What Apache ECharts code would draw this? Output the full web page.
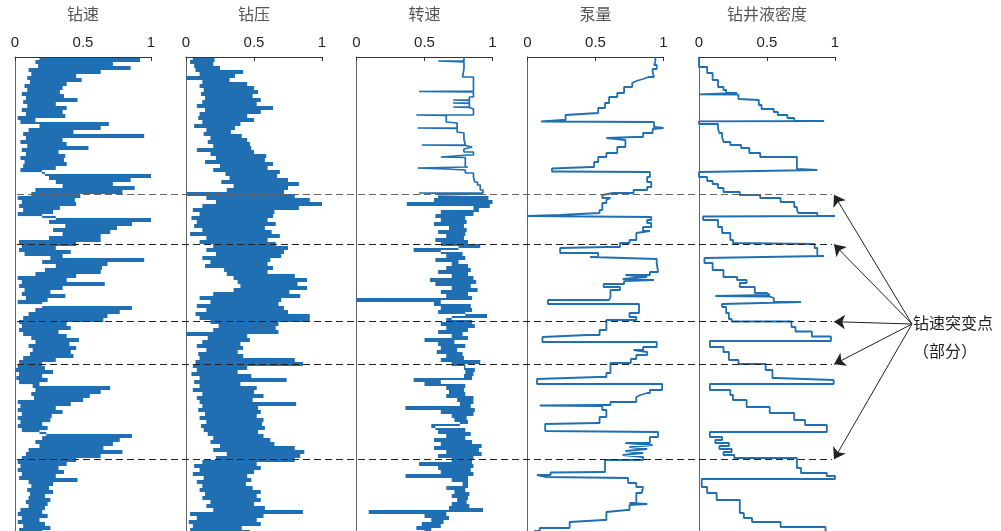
<!DOCTYPE html>
<html>
<head>
<meta charset="utf-8">
<script src="https://cdn.jsdelivr.net/npm/echarts@6/dist/echarts.min.js"></script>
<style>
  html, body { margin: 0; padding: 0; background: #fff; }
  #chart { width: 1001px; height: 531px; }
</style>
</head>
<body>
<div id="chart"></div>
<script>
// Normalised well-log curves, depth increasing downwards (depth units = rows).
const panelTitles = ['钻速', '钻压', '转速', '泵量', '钻井液密度'];
const xTickLabels = ['0', '0.5', '1'];
const depthStep = 2;

// 钻速 (rate of penetration), one sample every depthStep
const ropValues = [
  0.18,0.92,0.15,0.72,0.17,0.85,0.10,0.63,0.12,0.45,0.09,0.49,0.11,0.38,0.07,0.35,0.09,0.33,0.05,0.36,
  0.08,0.46,0.06,0.30,0.09,0.38,0.05,0.35,0.08,0.37,0.02,0.15,0.04,0.69,0.18,0.63,0.10,0.43,0.06,0.95,
  0.08,0.35,0.04,0.38,0.09,0.54,0.05,0.32,0.08,0.37,0.04,0.36,0.07,0.38,0.06,0.30,0.04,0.20,0.22,1.00,
  0.25,0.85,0.30,0.72,0.35,0.88,0.15,0.79,0.12,0.48,0.02,0.44,0.05,0.45,0.03,0.33,0.06,0.28,0.02,0.20,
  0.30,1.00,0.25,0.86,0.37,0.75,0.28,0.70,0.35,0.63,0.25,0.63,0.03,0.45,0.05,0.30,0.03,0.41,0.07,0.35,
  0.26,0.95,0.20,0.68,0.30,0.64,0.22,0.63,0.15,0.45,0.02,0.38,0.05,0.66,0.03,0.35,0.07,0.26,0.05,0.37,
  0.08,0.24,0.02,0.20,0.20,0.86,0.15,0.77,0.10,0.68,0.06,0.65,0.03,0.38,0.05,0.41,0.03,0.32,0.06,0.38,
  0.12,0.47,0.15,0.40,0.10,0.45,0.13,0.41,0.11,0.43,0.06,0.30,0.03,0.20,0.02,0.22,0.00,0.28,0.03,0.20,
  0.01,0.24,0.03,0.18,0.13,0.70,0.15,0.63,0.12,0.55,0.14,0.50,0.02,0.41,0.04,0.30,0.02,0.35,0.05,0.27,
  0.02,0.26,0.04,0.20,0.02,0.24,0.05,0.18,0.23,0.86,0.20,0.77,0.15,0.72,0.18,0.65,0.10,0.79,0.08,0.63,
  0.05,0.45,0.02,0.38,0.04,0.32,0.02,0.36,0.05,0.30,0.03,0.46,0.10,0.28,0.12,0.25,0.09,0.28,0.11,0.22,
  0.10,0.26,0.08,0.24,0.10,0.22,0.04,0.20,0.02,0.24,0.05,0.18,0.02,0.22,0.06,0.26,0.03,0.20
];

// 钻压 (weight on bit), one sample every depthStep
const wobValues = [
  0.05,0.21,0.03,0.20,0.06,0.25,0.07,0.42,0.10,0.36,0.00,0.32,0.12,0.45,0.10,0.50,0.13,0.53,0.11,0.49,
  0.14,0.55,0.12,0.52,0.08,0.64,0.14,0.55,0.10,0.45,0.09,0.50,0.12,0.40,0.06,0.36,0.15,0.33,0.13,0.41,
  0.18,0.45,0.16,0.47,0.20,0.48,0.08,0.50,0.18,0.59,0.22,0.58,0.14,0.64,0.25,0.60,0.20,0.69,0.29,0.67,
  0.32,0.75,0.26,0.83,0.35,0.75,0.30,0.72,0.00,0.80,0.15,0.91,0.22,1.00,0.12,0.83,0.05,0.65,0.10,0.64,
  0.04,0.60,0.08,0.66,0.06,0.58,0.12,0.63,0.03,0.69,0.15,0.60,0.10,0.66,0.20,0.75,0.15,0.72,0.22,0.70,
  0.12,0.62,0.18,0.60,0.14,0.64,0.28,0.60,0.30,0.80,0.35,0.89,0.38,0.82,0.40,0.89,0.35,0.76,0.20,0.84,
  0.10,0.70,0.18,0.68,0.08,0.72,0.15,0.75,0.07,0.91,0.10,0.91,0.18,0.68,0.24,0.66,0.20,0.68,0.00,0.45,
  0.16,0.47,0.12,0.40,0.08,0.42,0.15,0.38,0.09,0.42,0.10,0.80,0.07,0.86,0.05,0.45,0.08,0.38,0.04,0.48,
  0.10,0.74,0.06,0.40,0.10,0.52,0.05,0.50,0.12,0.57,0.08,0.49,0.10,0.81,0.12,0.53,0.09,0.55,0.14,0.52,
  0.10,0.57,0.15,0.56,0.11,0.58,0.13,0.53,0.16,0.57,0.20,0.62,0.18,0.65,0.25,0.80,0.20,0.87,0.30,0.84,
  0.22,0.80,0.12,0.52,0.06,0.55,0.10,0.50,0.05,0.45,0.13,0.48,0.08,0.44,0.12,0.49,0.10,0.55,0.14,0.52,
  0.12,0.55,0.18,0.50,0.15,0.58,0.20,0.86,0.03,0.57,0.08,0.52,0.02,0.55,0.05,0.41,0.03,0.47
];

// 转速 (rotary speed): upper stepped section as [value, depth] ...
const rpmTop = [
  [0.79,0],[0.79,4],[0.60,4],[0.79,5],[0.78,12],[0.79,20],[0.86,20],[0.86,34],[0.46,34.5],[0.86,35],
  [0.86,40],[0.83,40],[0.83,43],[0.71,43],[0.83,43.5],[0.83,46],[0.71,46],[0.83,46.5],[0.83,50],[0.71,50],
  [0.83,50.5],[0.86,52],[0.86,58],[0.44,58],[0.66,58.5],[0.66,65],[0.74,66],[0.74,71],[0.45,71],[0.74,71.5],
  [0.74,75],[0.79,76],[0.80,82],[0.80,88],[0.48,88],[0.80,88.5],[0.85,90],[0.79,92],[0.86,95],[0.82,98],
  [0.82,100],[0.62,100],[0.80,100.5],[0.80,105],[0.82,110],[0.45,111],[0.66,112],[0.80,113],[0.80,116],[0.86,116],
  [0.87,120],[0.89,125],[0.91,128],[0.93,133],[0.93,136],[0.46,136],[0.93,137]
];
// ... and the lower, denser section sampled every depthStep from rpmBandStart
const rpmBandStart = 138;
const rpmBand = [
  0.60,0.97,0.57,1.00,0.37,0.98,0.86,0.90,0.62,0.86,0.58,0.80,0.62,0.81,0.57,0.79,0.68,0.81,0.60,0.80,
  0.66,0.79,0.58,0.82,0.62,0.91,0.75,0.42,0.62,0.78,0.66,0.80,0.58,0.75,0.70,0.82,0.66,0.84,0.60,0.82,
  0.70,0.86,0.54,0.88,0.58,0.84,0.70,0.89,0.62,0.82,0.66,0.85,0.00,0.62,0.57,0.84,0.62,0.85,0.60,0.80,
  0.96,0.70,0.66,0.85,0.62,0.87,0.66,0.82,0.60,0.78,0.70,0.82,0.50,0.72,0.60,0.80,0.62,0.74,0.59,0.78,
  0.66,0.79,0.62,0.91,0.70,0.80,0.79,0.87,0.80,0.86,0.79,0.85,0.42,0.62,0.50,0.80,0.66,0.79,0.68,0.80,
  0.66,0.86,0.74,0.86,0.76,0.84,0.36,0.87,0.62,0.86,0.70,0.81,0.72,0.82,0.76,0.55,0.58,0.80,0.60,0.84,
  0.66,0.80,0.57,0.85,0.62,0.92,0.57,0.90,0.66,0.92,0.60,0.86,0.70,0.85,0.46,0.86,0.60,0.84,0.62,0.86,
  0.36,0.82,0.70,0.82,0.78,0.82,0.66,0.80,0.72,0.83,0.70,0.82,0.74,0.81,0.70,0.83,0.68,0.93,0.09,0.66,
  0.50,0.68,0.55,0.64,0.48,0.62,0.44,0.55,0.50
];

// 泵量 (pump flow) as [value, depth]
const flowPts = [
  [0.94,0],[0.93,5],[0.95,8],[0.92,12],[0.93,15],[0.89,20],[0.85,22],[0.80,24],[0.77,26],[0.71,30],
  [0.66,36],[0.60,40],[0.57,46],[0.52,51],[0.51,56],[0.28,58],[0.26,63],[0.10,64.5],[0.93,65],[0.93,70],
  [1.00,71],[0.92,72],[0.85,76],[0.79,80],[0.58,81],[0.72,83],[0.66,90],[0.58,96],[0.52,100],[0.49,105],
  [0.47,110],[0.18,111.5],[0.22,114.5],[0.90,115],[0.90,117],[0.88,120],[0.91,125],[0.88,130],[0.78,133],[0.63,136],
  [0.55,138],[0.61,141],[0.58,143],[0.55,146],[0.53,153],[0.52,156],[0.24,158],[0.00,159],[0.91,160],[0.88,163],
  [0.91,166],[0.85,170],[0.90,174],[0.80,176],[0.75,183],[0.68,186],[0.58,190],[0.24,191],[0.52,196],[0.46,200],
  [0.95,202],[0.96,206],[0.90,215],[0.72,218],[0.88,220],[0.70,222],[0.93,223],[0.71,224],[0.56,227],[0.68,230],
  [0.61,233],[0.60,240],[0.15,243],[0.82,247],[0.75,256],[0.80,260],[0.58,263],[0.53,273],[0.44,278],[0.11,280],
  [0.95,285],[0.85,290],[0.78,293],[0.88,295],[0.80,298],[0.76,302],[0.61,306],[0.58,316],[0.52,320],[0.07,322],
  [0.99,327],[0.90,333],[0.88,336],[0.83,338],[0.80,340],[0.61,345],[0.55,348],[0.09,348.5],[0.55,349],[0.58,353],
  [0.53,360],[0.51,366],[0.13,367],[0.13,374],[0.96,375],[0.90,380],[0.72,386],[0.92,388],[0.75,390],[0.88,392],
  [0.72,394],[0.85,396],[0.70,398],[0.85,400],[0.57,403],[0.53,415],[0.17,415.5],[0.07,418],[0.14,420],[0.74,421],
  [0.80,426],[0.85,430],[0.84,432],[0.80,436],[0.75,446],[0.88,447],[0.75,448],[0.73,453],[0.58,455],[0.56,463],
  [0.31,465],[0.09,471],[0.05,474]
];

// 钻井液密度 (drilling-fluid density) as [value, depth]
const mudPts = [
  [0.00,0],[0.06,10],[0.10,16],[0.14,23],[0.18,30],[0.20,33],[0.28,36],[0.29,37],[0.00,37.3],[0.29,37.6],
  [0.30,42],[0.44,43],[0.46,48],[0.55,52],[0.58,55],[0.65,58],[0.70,61],[0.70,63],[0.92,64],[0.00,64.3],
  [0.14,67],[0.15,72],[0.17,76],[0.18,80],[0.23,85],[0.31,88],[0.37,91],[0.45,96],[0.72,100],[0.72,106],
  [0.73,112],[0.87,113],[0.87,114.5],[0.00,115],[0.06,120],[0.10,124],[0.14,127],[0.18,131],[0.30,135],[0.45,138],
  [0.60,141],[0.70,145],[0.72,150],[0.73,153],[0.87,156],[1.00,159],[0.03,159.5],[0.14,163],[0.17,170],[0.23,176],
  [0.25,183],[0.26,186],[0.85,187],[0.87,191],[0.92,199],[0.92,200],[0.04,201],[0.10,206],[0.18,213],[0.28,220],
  [0.35,223],[0.30,226],[0.41,230],[0.50,236],[0.52,238],[0.12,239],[0.52,239.5],[0.55,241],[0.75,245],[0.17,247],
  [0.20,250],[0.22,256],[0.24,262],[0.68,264.5],[0.71,270],[0.83,274.5],[0.97,279.5],[0.08,284],[0.18,290],[0.22,295],
  [0.29,303],[0.49,307],[0.54,313],[0.56,321],[0.99,323],[0.08,327],[0.23,333],[0.25,338],[0.35,343],[0.52,350],
  [0.70,356],[0.78,363],[0.94,368],[0.08,375],[0.17,380],[0.12,383],[0.22,386],[0.15,389],[0.24,392],[0.18,395],
  [0.26,398],[0.72,401],[0.75,411],[0.94,416],[1.00,419],[0.02,422],[0.06,430],[0.13,436],[0.30,443],[0.33,456],
  [0.39,461],[0.60,465],[0.93,470],[0.94,474]
];

// Depths of the marked rate-of-penetration breaks
const breakDepths = [137.7, 187.3, 264.7, 307.3, 402.3];
const annotationText = ['钻速突变点', '（部分）'];

const depthMax = 480;
const lineColor = '#1f6fb2';
const panelLeft = [15, 186, 356.5, 527.5, 699];
const panelWidth = 136;
const plotTop = 57;

function sampled(values, start) {
  return values.map((v, i) => [v, start + i * depthStep]);
}
// Stair path: hold each reading down to the next depth, then move across.
function stairs(pts) {
  const out = [];
  pts.forEach((p, i) => {
    out.push(p);
    if (i < pts.length - 1) out.push([p[0], pts[i + 1][1]]);
  });
  return out;
}
// Dense logs: one horizontal stroke per sample, from the previous reading to this one.
function strokes(pts) {
  const out = [];
  for (let i = 0; i < pts.length - 1; i++) {
    const d = pts[i + 1][1];
    out.push({ coords: [[pts[i][0], d], [pts[i + 1][0], d]] });
  }
  return out;
}

const grids = [], xAxes = [], yAxes = [], series = [];
panelTitles.forEach((title, i) => {
  grids.push({ left: panelLeft[i], width: panelWidth, top: plotTop, height: depthMax, outerBoundsMode: 'none' });
  xAxes.push({
    gridIndex: i, type: 'value', position: 'top', min: 0, max: 1, interval: 0.5,
    name: title, nameLocation: 'middle', nameGap: 35,
    nameTextStyle: { fontFamily: 'Noto Sans CJK SC', fontSize: 16, color: '#555' },
    axisLine: { show: true, onZero: false, lineStyle: { color: '#333', width: 1 } },
    axisTick: { show: true, inside: true, length: 4, lineStyle: { color: '#333' } },
    axisLabel: {
      margin: 7, fontFamily: 'Liberation Sans', fontSize: 15, color: '#262626',
      formatter: v => xTickLabels[Math.round(v * 2)]
    },
    splitLine: { show: false }
  });
  yAxes.push({
    gridIndex: i, type: 'value', inverse: true, min: 0, max: depthMax,
    axisLine: { show: true, onZero: false, lineStyle: { color: '#666', width: 1 } },
    axisTick: { show: false }, axisLabel: { show: false }, splitLine: { show: false }
  });
});

function strokeSeries(i, pts, width) {
  return {
    type: 'lines', coordinateSystem: 'cartesian2d', xAxisIndex: i, yAxisIndex: i,
    data: strokes(pts), symbol: 'none', silent: true, z: 2,
    lineStyle: { color: lineColor, width: width, opacity: 1, curveness: 0, cap: 'butt' }
  };
}
function pathSeries(i, pts, width) {
  return {
    type: 'line', xAxisIndex: i, yAxisIndex: i, data: stairs(pts),
    showSymbol: false, symbol: 'none', clip: false, silent: true, z: 2,
    lineStyle: { color: lineColor, width: width }
  };
}

series.push(strokeSeries(0, sampled(ropValues, 0), 2.2));
series.push(strokeSeries(1, sampled(wobValues, 0), 2.2));
series.push(pathSeries(2, rpmTop.concat([[rpmBand[0], rpmBandStart]]), 1.7));
series.push(strokeSeries(2, sampled(rpmBand, rpmBandStart), 2));
series.push(pathSeries(3, flowPts, 1.8));
series.push(pathSeries(4, mudPts, 1.8));

// Full-width overlay for the break lines and the annotation arrows
grids.push({ left: 0, width: 1001, top: plotTop, height: depthMax, outerBoundsMode: 'none' });
xAxes.push({ gridIndex: 5, type: 'value', min: 0, max: 1001, show: false });
yAxes.push({ gridIndex: 5, type: 'value', inverse: true, min: 0, max: depthMax, show: false });

const dashStart = 17, dashEnd = 832;
const arrowFrom = [912, 267], arrowTipX = 834;

series.push({
  type: 'lines', coordinateSystem: 'cartesian2d', xAxisIndex: 5, yAxisIndex: 5, z: 5,
  data: breakDepths.map((d, i) => ({
    coords: [[dashStart, d], [dashEnd, d]],
    lineStyle: { color: i === 0 ? '#666' : '#222' }
  })),
  lineStyle: { width: 1, type: [7, 4], opacity: 1 },
  symbol: 'none', silent: true
});
series.push({
  type: 'lines', coordinateSystem: 'cartesian2d', xAxisIndex: 5, yAxisIndex: 5, z: 6,
  data: breakDepths.map(d => ({ coords: [arrowFrom, [arrowTipX, d]] })),
  lineStyle: { width: 1, color: '#222', opacity: 1 },
  symbol: ['none', 'arrow'], symbolSize: 11, silent: true
});

const chart = echarts.init(document.getElementById('chart'), null, { renderer: 'canvas' });
chart.setOption({
  animation: false,
  backgroundColor: '#fff',
  grid: grids, xAxis: xAxes, yAxis: yAxes, series: series,
  graphic: [
    { type: 'text', left: 913, top: 315, style: { text: annotationText[0], font: '16px "Noto Sans CJK SC"', fill: '#222' } },
    { type: 'text', left: 913, top: 343, style: { text: annotationText[1], font: '16px "Noto Sans CJK SC"', fill: '#222' } }
  ]
});
</script>
</body>
</html>
